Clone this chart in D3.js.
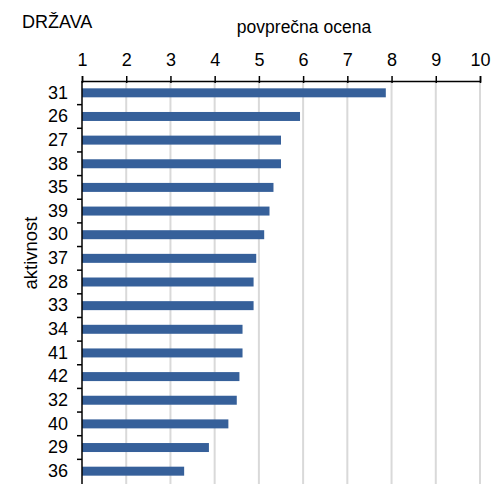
<!DOCTYPE html>
<html>
<head>
<meta charset="utf-8">
<script src="https://cdn.jsdelivr.net/npm/d3@7"></script>
<style>
  html, body { margin: 0; padding: 0; background: #fff; }
  svg { display: block; font-family: "Liberation Sans", Arial, sans-serif; }
</style>
</head>
<body>
<svg id="chart" width="497" height="484"></svg>
<script>
// Activities (DRŽAVA) ordered by average score
const categories = ["31", "26", "27", "38", "35", "39", "30", "37", "28", "33", "34", "41", "42", "32", "40", "29", "36"];
const scores = [7.87, 5.93, 5.50, 5.50, 5.33, 5.24, 5.12, 4.94, 4.88, 4.88, 4.63, 4.63, 4.56, 4.50, 4.31, 3.87, 3.31];
const xTicks = [1, 2, 3, 4, 5, 6, 7, 8, 9, 10];

const svg = d3.select("#chart");
const plotLeft = 82, plotRight = 480, plotTop = 81, plotBottom = 483;

const x = d3.scaleLinear().domain([1, 10]).range([plotLeft, plotRight]);
const y = d3.scaleBand().domain(categories).range([plotTop, plotBottom]).paddingInner(0.62).paddingOuter(0.31);

// vertical gridlines
svg.append("g")
  .selectAll("line")
  .data(xTicks.slice(1))
  .join("line")
  .attr("x1", d => x(d)).attr("x2", d => x(d))
  .attr("y1", plotTop).attr("y2", 484)
  .attr("stroke", "#d9d9d9")
  .attr("stroke-width", 2);

// bars
svg.append("g")
  .selectAll("rect")
  .data(categories.map((c, i) => ({ c, v: scores[i] })))
  .join("rect")
  .attr("x", x(1))
  .attr("y", d => y(d.c))
  .attr("width", d => x(d.v) - x(1))
  .attr("height", y.bandwidth())
  .attr("fill", "#36609a");

// top value axis
const xAxis = svg.append("g")
  .attr("transform", `translate(0,${plotTop})`)
  .call(d3.axisTop(x).tickValues(xTicks).tickSizeOuter(0).tickSize(5).tickPadding(10));
xAxis.select(".domain").attr("stroke", "#000").attr("stroke-width", 1.5);
xAxis.selectAll(".tick line").attr("y1", 2).attr("y2", -5).attr("stroke", "#000").attr("stroke-width", 1.5);
xAxis.selectAll(".tick text").attr("font-size", 18).attr("fill", "#000")
  .attr("font-family", "Liberation Sans, Arial, sans-serif");

// left category axis: labels at band centres, ticks at band boundaries
const yAxis = svg.append("g")
  .attr("transform", `translate(${plotLeft},0)`)
  .call(d3.axisLeft(y).tickSize(0).tickPadding(14));
yAxis.select(".domain").remove();
yAxis.selectAll(".tick text").attr("font-size", 18).attr("fill", "#000")
  .attr("font-family", "Liberation Sans, Arial, sans-serif");

const boundaries = categories.slice(1).map(c => y(c) - y.step() * y.paddingInner() / 2);
svg.append("g")
  .selectAll("line")
  .data(boundaries)
  .join("line")
  .attr("x1", plotLeft - 5).attr("x2", plotLeft)
  .attr("y1", d => d).attr("y2", d => d)
  .attr("stroke", "#000").attr("stroke-width", 1.5);

svg.append("line")
  .attr("x1", plotLeft).attr("x2", plotLeft)
  .attr("y1", plotTop).attr("y2", 484)
  .attr("stroke", "#000").attr("stroke-width", 1.5);

// titles
svg.append("text")
  .attr("x", 22).attr("y", 28)
  .attr("font-size", 18)
  .text("DRŽAVA");

svg.append("text")
  .attr("x", 304).attr("y", 33)
  .attr("text-anchor", "middle")
  .attr("font-size", 17.5)
  .text("povprečna ocena");

svg.append("text")
  .attr("transform", `translate(37,253) rotate(-90)`)
  .attr("text-anchor", "middle")
  .attr("font-size", 18.5)
  .text("aktivnost");
</script>
</body>
</html>
